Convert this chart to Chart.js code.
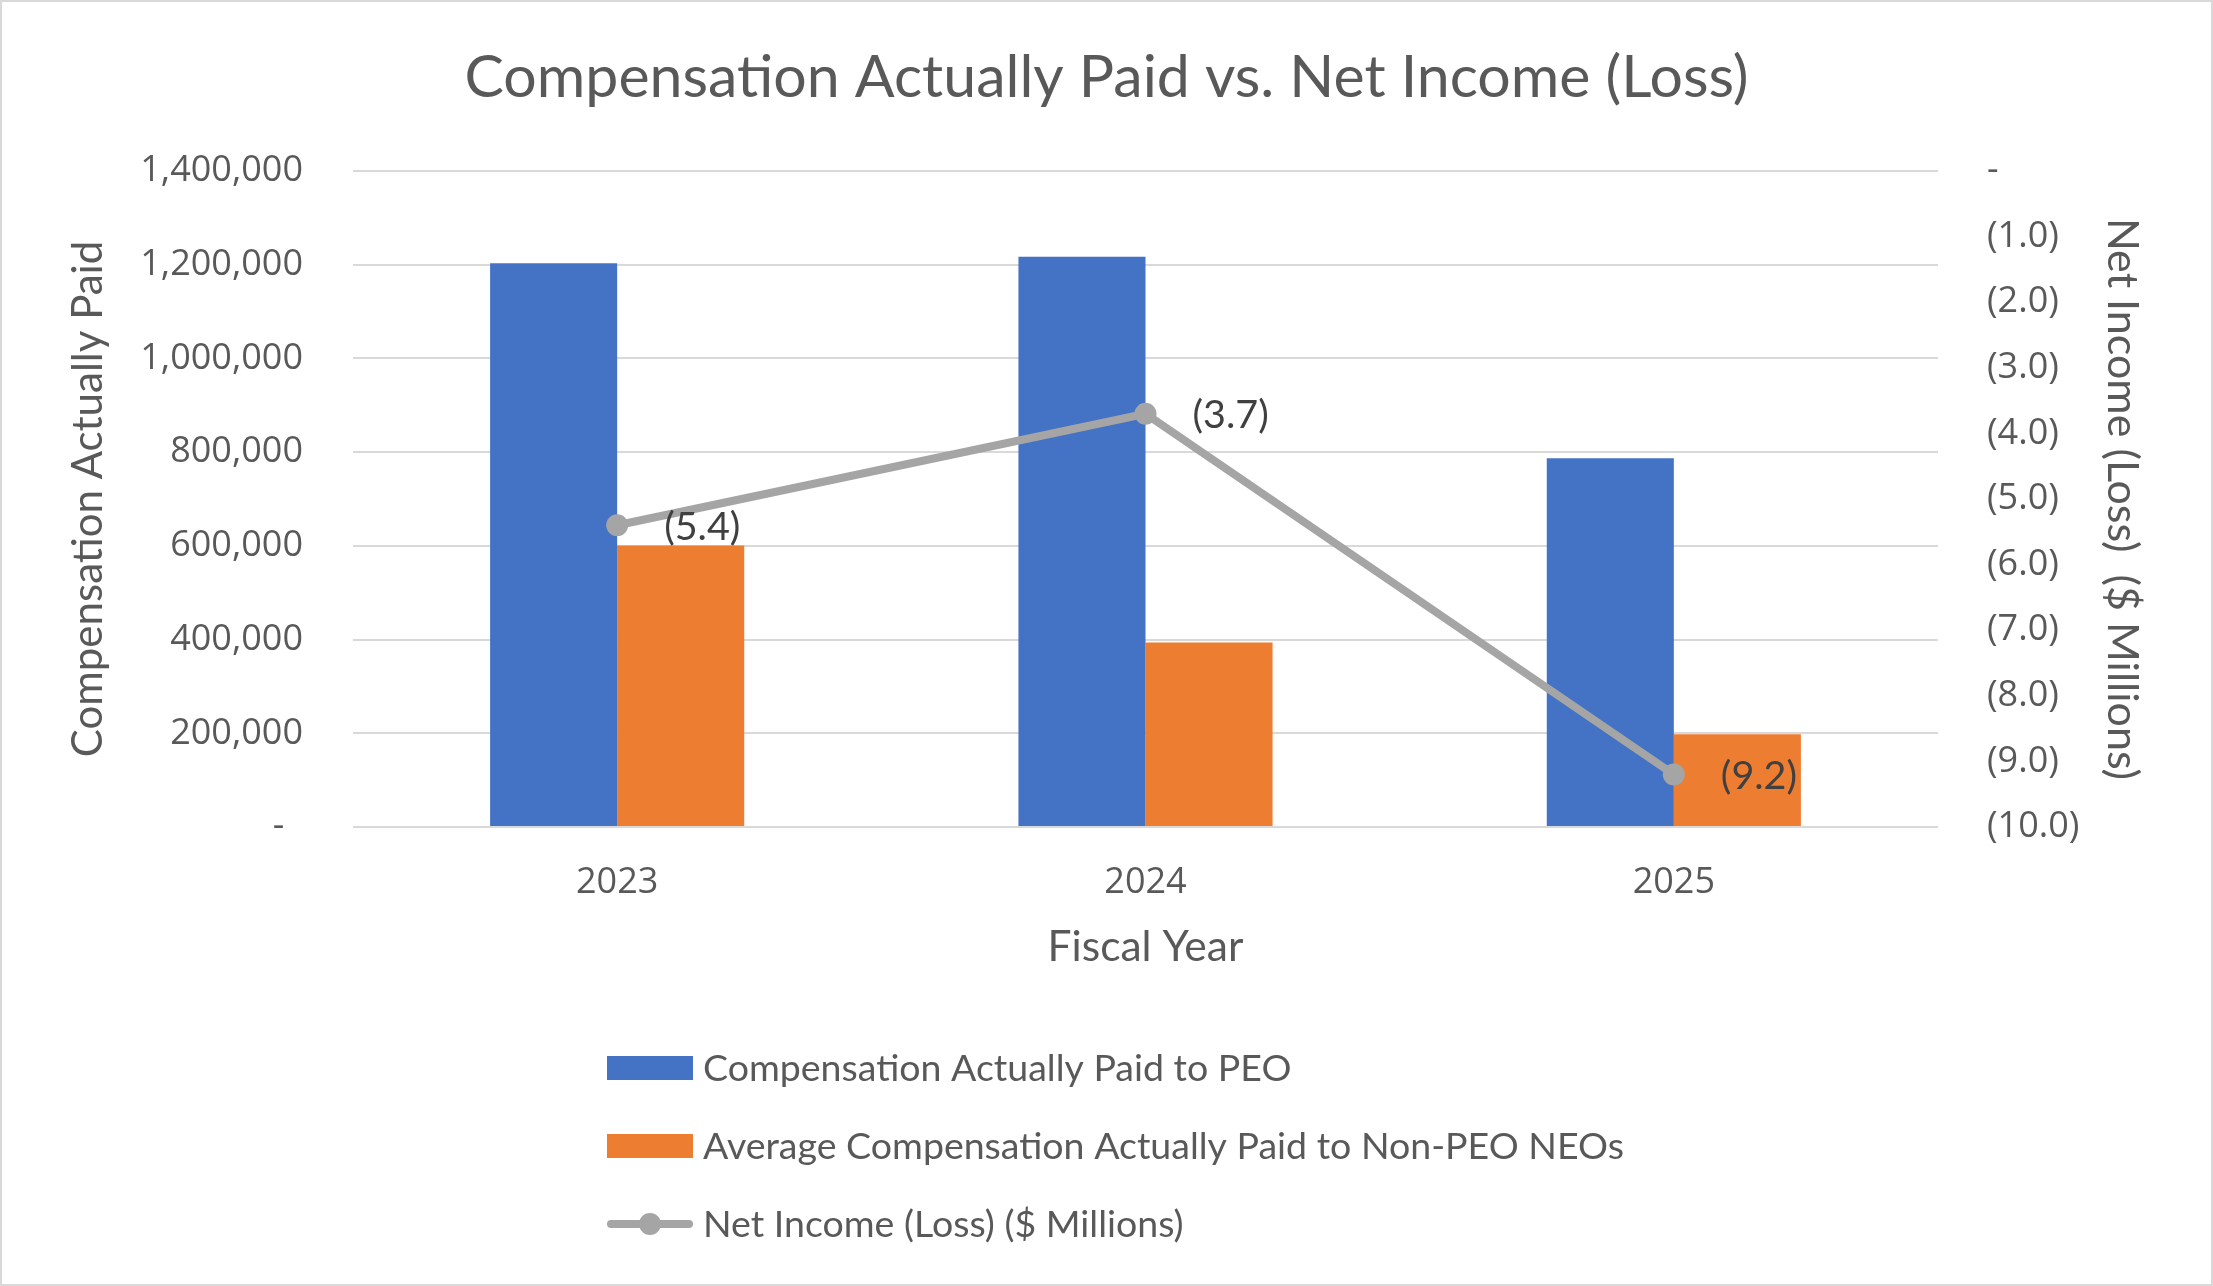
<!DOCTYPE html>
<html><head><meta charset="utf-8">
<script src="https://cdn.jsdelivr.net/npm/chart.js@4.4.0/dist/chart.umd.min.js"></script>
<style>
html,body{margin:0;padding:0;background:#fff;}
#wrap{width:2213px;height:1286px;box-sizing:border-box;border:2px solid #D9D9D9;background:#fff;}
canvas{display:block;}
</style></head><body>
<div id="wrap"><canvas id="c" width="2209" height="1282"></canvas></div>
<script>
// ---- data ----
const categories = ['2023', '2024', '2025'];
const peoComp = [1203000, 1217000, 787000];
const nonPeoComp = [601000, 394000, 198000];
const netIncome = [-5.4, -3.7, -9.2];
const seriesNames = [
  'Compensation Actually Paid to PEO',
  'Average Compensation Actually Paid to Non-PEO NEOs',
  'Net Income (Loss) ($ Millions)'
];
const chartTitle = 'Compensation Actually Paid vs. Net Income (Loss)';
const leftAxisTitle = 'Compensation Actually Paid';
const rightAxisTitle = 'Net Income (Loss)  ($ Millions)';
const xAxisTitle = 'Fiscal Year';

// ---- styles ----
const TXT = '#595959';
const SANS = "'Open Sans', sans-serif";
const NARROW = "Lato, 'Open Sans', sans-serif";

const fmtLeft = v => v === 0 ? '-  ' : v.toLocaleString('en-US');
const fmtRight = v => Math.abs(v) < 1e-9 ? '-' : '(' + Math.abs(v).toFixed(1) + ')';
const fmtLabel = v => v < 0 ? '(' + Math.abs(v).toFixed(1) + ')' : v.toFixed(1);

const lineLabels = {
  id: 'lineLabels',
  afterDatasetsDraw(chart, args, opts) {
    const ctx = chart.ctx;
    chart.data.datasets.forEach((ds, di) => {
      if (ds.type !== 'line') return;
      const meta = chart.getDatasetMeta(di);
      ctx.save();
      ctx.font = opts.font;
      ctx.fillStyle = opts.color;
      ctx.textAlign = 'left';
      ctx.textBaseline = 'middle';
      meta.data.forEach((pt, i) => {
        ctx.fillText(fmtLabel(ds.data[i]), pt.x + opts.dx, pt.y + opts.dy);
      });
      ctx.restore();
    });
  }
};

const vertLegend = {
  id: 'vertLegend',
  afterDraw(chart, args, opts) {
    const ctx = chart.ctx;
    const top = chart.chartArea.bottom + opts.offsetTop;
    ctx.save();
    ctx.font = opts.font;
    ctx.textBaseline = 'middle';
    ctx.textAlign = 'left';
    opts.order.forEach((di, k) => {
      const ds = chart.data.datasets[di];
      const cy = top + k * opts.spacing;
      const x0 = opts.left;
      if (ds.type === 'line') {
        ctx.strokeStyle = ds.borderColor;
        ctx.lineWidth = ds.borderWidth;
        ctx.lineCap = 'round';
        ctx.beginPath();
        ctx.moveTo(x0 + ds.borderWidth / 2, cy);
        ctx.lineTo(x0 + opts.boxWidth - ds.borderWidth / 2, cy);
        ctx.stroke();
        ctx.fillStyle = ds.pointBackgroundColor;
        ctx.beginPath();
        ctx.arc(x0 + opts.boxWidth / 2, cy, ds.pointRadius, 0, Math.PI * 2);
        ctx.fill();
      } else {
        ctx.fillStyle = ds.backgroundColor;
        ctx.fillRect(x0, cy - opts.boxHeight / 2, opts.boxWidth, opts.boxHeight);
      }
      ctx.fillStyle = opts.color;
      ctx.fillText(ds.label, x0 + opts.boxWidth + opts.gap, cy + 1);
    });
    ctx.restore();
  }
};

new Chart(document.getElementById('c'), {
  data: {
    labels: categories,
    datasets: [
      {
        type: 'line', label: seriesNames[2], data: netIncome, yAxisID: 'y1',
        borderColor: '#A5A5A5', borderWidth: 8, pointRadius: 11,
        pointBackgroundColor: '#A5A5A5', pointBorderWidth: 0,
        pointBorderColor: '#A5A5A5', tension: 0, order: 0
      },
      {
        type: 'bar', label: seriesNames[0], data: peoComp, yAxisID: 'y',
        backgroundColor: '#4472C4', borderWidth: 0, order: 1,
        barPercentage: 1.0, categoryPercentage: 0.481
      },
      {
        type: 'bar', label: seriesNames[1], data: nonPeoComp, yAxisID: 'y',
        backgroundColor: '#ED7D31', borderWidth: 0, order: 2,
        barPercentage: 1.0, categoryPercentage: 0.481
      }
    ]
  },
  options: {
    responsive: false, animation: false, devicePixelRatio: 1,
    layout: { padding: { left: 0, right: 0, top: 0, bottom: 297 } },
    plugins: {
      legend: { display: false },
      tooltip: { enabled: false },
      title: {
        display: true, text: chartTitle, color: TXT,
        font: { family: NARROW, size: 59, weight: 'normal', lineHeight: 1.2 },
        padding: { top: 40.6, bottom: 57.6 }
      },
      lineLabels: { font: "39.5px " + NARROW, color: '#404040', dx: 47, dy: 2 },
      vertLegend: {
        order: [1, 2, 0], left: 605, offsetTop: 241, spacing: 78,
        boxWidth: 86, boxHeight: 24, gap: 10,
        font: "37.5px " + NARROW, color: TXT
      }
    },
    scales: {
      x: {
        type: 'category', offset: true,
        grid: { display: false, drawTicks: false },
        border: { display: false },
        ticks: { color: TXT, font: { family: SANS, size: 36 }, padding: 34 },
        title: { display: true, text: xAxisTitle, color: TXT,
          font: { family: NARROW, size: 42.5, lineHeight: 1.2 }, padding: { top: 0, bottom: 14 } },
        afterFit: s => { s.height = 160; }
      },
      y: {
        type: 'linear', position: 'left', min: 0, max: 1400000,
        grid: { color: '#D9D9D9', lineWidth: 2, drawTicks: false },
        border: { display: false },
        ticks: { stepSize: 200000, color: TXT, font: { family: SANS, size: 36 }, padding: 50,
          callback: v => fmtLeft(v) },
        title: { display: true, text: leftAxisTitle, color: TXT,
          font: { family: NARROW, size: 42, lineHeight: 1.2 }, padding: { top: 61, bottom: 0 } },
        afterFit: s => { s.width = 351; }
      },
      y1: {
        type: 'linear', position: 'right', min: -10, max: 0,
        grid: { display: false, drawTicks: false },
        border: { display: false },
        ticks: { stepSize: 1, color: TXT, font: { family: SANS, size: 36 }, padding: 49,
          callback: v => fmtRight(v) },
        title: { display: true, text: rightAxisTitle, color: TXT,
          font: { family: NARROW, size: 43, lineHeight: 1.2 }, padding: { top: 63, bottom: 0 } },
        afterFit: s => { s.width = 273; }
      }
    }
  },
  plugins: [lineLabels, vertLegend]
});
</script>
</body></html>
